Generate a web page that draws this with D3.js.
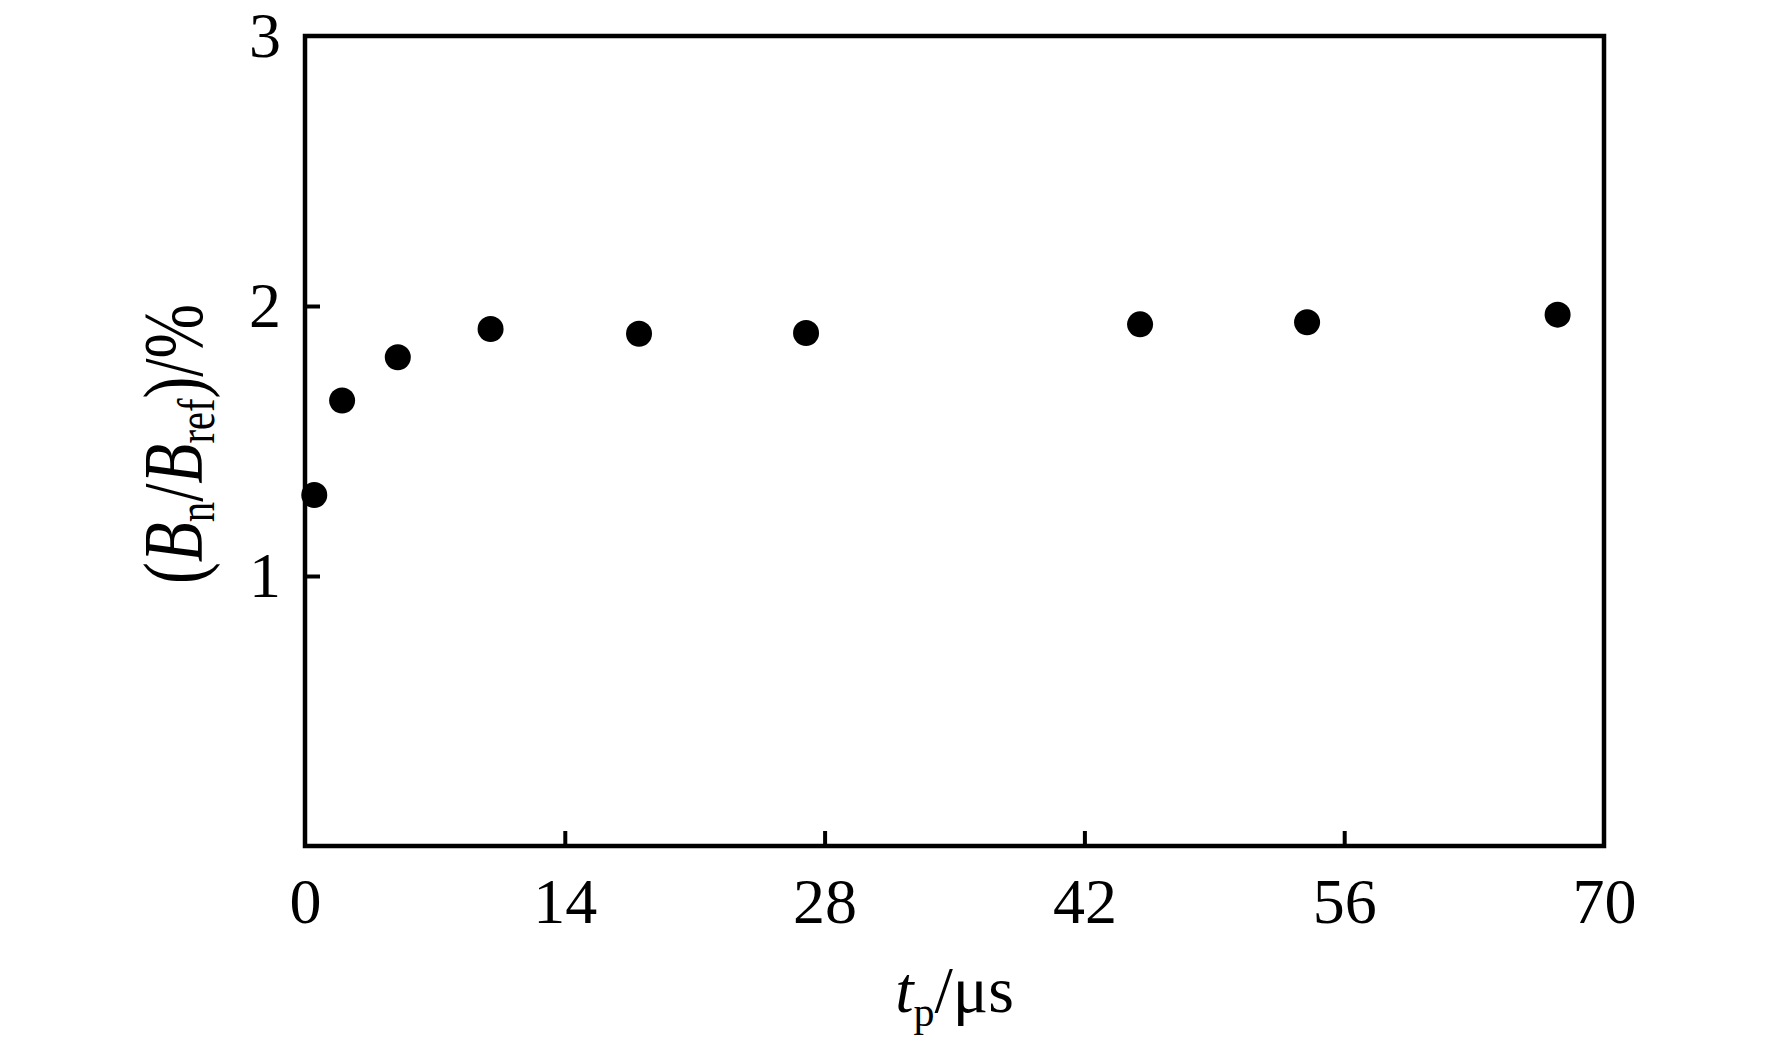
<!DOCTYPE html>
<html>
<head>
<meta charset="utf-8">
<script src="https://cdn.jsdelivr.net/npm/d3@7"></script>
<style>
  html, body { margin: 0; padding: 0; background: #fff; }
  svg { display: block; }
  text { font-family: "Liberation Serif", "Times New Roman", serif; fill: #000; }
</style>
</head>
<body>
<svg id="chart" width="1772" height="1045"></svg>
<script>
// Data
const tpValues = [0.5, 2, 5, 10, 18, 27, 45, 54, 67.5];
const ratioValues = [1.30, 1.65, 1.81, 1.915, 1.897, 1.90, 1.932, 1.94, 1.968];
const xTicks = [0, 14, 28, 42, 56, 70];
const yTicks = [1, 2, 3];
const xDomain = [0, 70];
const yDomain = [0, 3];

const svg = d3.select("#chart");
const margin = { left: 305, right: 1772 - 1604, top: 36, bottom: 1045 - 846 };
const W = 1772, H = 1045;

const x = d3.scaleLinear().domain(xDomain).range([margin.left, W - margin.right]);
const y = d3.scaleLinear().domain(yDomain).range([H - margin.bottom, margin.top]);

const strokeW = 4.5;

// frame
svg.append("rect")
  .attr("x", x(0)).attr("y", y(3))
  .attr("width", x(70) - x(0)).attr("height", y(0) - y(3))
  .attr("fill", "none").attr("stroke", "#000").attr("stroke-width", strokeW);

// x axis
const xAxis = d3.axisBottom(x).tickValues(xTicks).tickSizeInner(-15).tickSizeOuter(0).tickPadding(32)
  .tickFormat(d3.format("d"));
const gx = svg.append("g").attr("transform", `translate(0,${y(0)})`).call(xAxis);
gx.select(".domain").remove();
gx.selectAll(".tick line").attr("stroke", "#000").attr("stroke-width", 4)
  .attr("display", d => (d === 0 || d === 70) ? "none" : null);
gx.selectAll(".tick text").attr("font-size", 64).attr("font-family", "Liberation Serif");

// y axis
const yAxis = d3.axisLeft(y).tickValues(yTicks).tickSizeInner(-15).tickSizeOuter(0).tickPadding(24)
  .tickFormat(d3.format("d"));
const gy = svg.append("g").attr("transform", `translate(${x(0)},0)`).call(yAxis);
gy.select(".domain").remove();
gy.selectAll(".tick line").attr("stroke", "#000").attr("stroke-width", 4)
  .attr("display", d => d === 3 ? "none" : null);
gy.selectAll(".tick text").attr("font-size", 64).attr("font-family", "Liberation Serif");

// points
svg.append("g").selectAll("circle")
  .data(tpValues.map((t, i) => ({ t, r: ratioValues[i] })))
  .join("circle")
  .attr("cx", d => x(d.t))
  .attr("cy", d => y(d.r))
  .attr("r", 13)
  .attr("fill", "#000");

// x title: t_p/μs
const xt = svg.append("text")
  .attr("x", (x(0) + x(70)) / 2)
  .attr("y", 1012)
  .attr("text-anchor", "middle")
  .attr("font-size", 66);
xt.append("tspan").attr("font-style", "italic").text("t");
xt.append("tspan").attr("font-size", 42).attr("dy", 14).text("p");
xt.append("tspan").attr("dy", -14).text("/μs");

// y title: (B_n/B_ref)/%
const yt = svg.append("text")
  .attr("transform", `translate(202,444) rotate(-90) scale(0.78,1)`)
  .attr("text-anchor", "middle")
  .attr("font-size", 84);
yt.append("tspan").text("(");
yt.append("tspan").attr("font-style", "italic").text("B");
yt.append("tspan").attr("font-size", 52).attr("dy", 12).text("n");
yt.append("tspan").attr("dy", -12).text("/");
yt.append("tspan").attr("font-style", "italic").text("B");
yt.append("tspan").attr("font-size", 52).attr("dy", 12).text("ref");
yt.append("tspan").attr("dy", -12).text(")/%");
</script>
</body>
</html>
